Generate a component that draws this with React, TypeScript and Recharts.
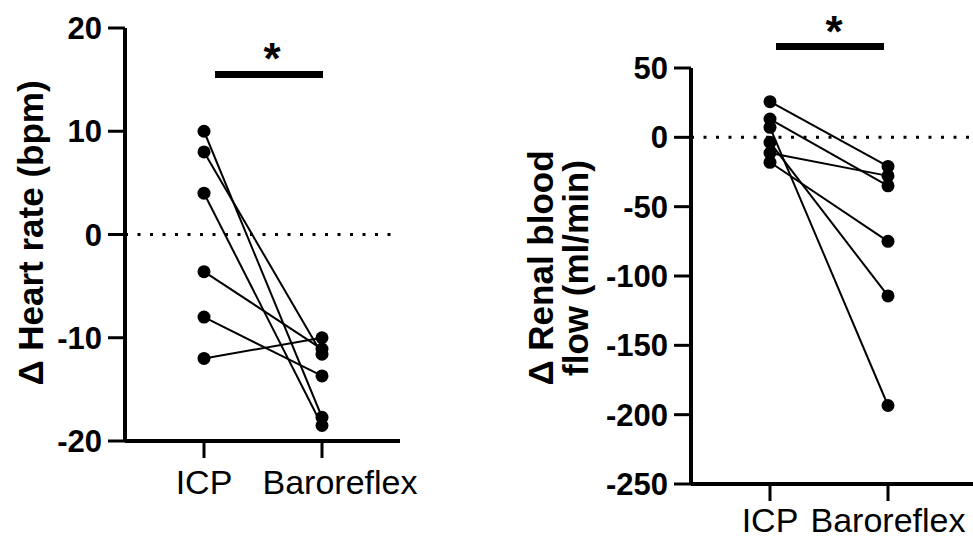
import React from 'react';
import { LineChart, Line, XAxis, YAxis, ReferenceLine } from 'recharts';

// paired values, one entry per animal (ICP -> Baroreflex)
const groups = ['ICP', 'Baroreflex'];
const hrIcp = [10, 8, 4, -3.6, -8, -12];
const hrBaro = [-17.7, -11.6, -18.5, -11.1, -13.7, -10];
const hrTicks = [-20, -10, 0, 10, 20];

const rbfIcp = [25.7, 13.2, 7.2, -3.6, -11.3, -18];
const rbfBaro = [-21, -35, -193.4, -114.4, -27.8, -75];
const rbfTicks = [-250, -200, -150, -100, -50, 0, 50];

const FONT = '"Liberation Sans", Arial, sans-serif';

// recharts wants rows: { group, s0, s1, ... }
function toRows(before: number[], after: number[]) {
  return groups.map((g, gi) => {
    const row: Record<string, any> = { group: g };
    const vals = gi === 0 ? before : after;
    vals.forEach((v, i) => (row['s' + i] = v));
    return row;
  });
}

const hrData = toRows(hrIcp, hrBaro);
const rbfData = toRows(rbfIcp, rbfBaro);

const tickStyle = { fontSize: 31, fontWeight: 700, fill: '#000', fontFamily: FONT };

// category label, optionally nudged (the left panel has "Baroreflex" shifted right)
function CatTick({ x, y, payload, shift, lift }: any) {
  const dx = payload.value === 'Baroreflex' ? shift : 0;
  return (
    <text x={x + dx} y={y} dy={26 - lift} textAnchor="middle" fontSize={34} fontFamily={FONT} fill="#000">
      {payload.value}
    </text>
  );
}

function PairedChart({ data, n, ticks, domain, width, height, margin, padding, yWidth, shift, lift }: any) {
  return (
    <LineChart width={width} height={height} data={data} margin={margin}>
      <XAxis
        dataKey="group"
        padding={padding}
        axisLine={{ stroke: '#000', strokeWidth: 4 }}
        tickLine={{ stroke: '#000', strokeWidth: 3 }}
        tickSize={17}
        tick={<CatTick shift={shift} lift={lift} />}
        tickMargin={10}
        height={60}
        interval={0}
      />
      <YAxis
        type="number"
        domain={domain}
        ticks={ticks}
        interval={0}
        width={yWidth}
        axisLine={{ stroke: '#000', strokeWidth: 4 }}
        tickLine={{ stroke: '#000', strokeWidth: 3 }}
        tickSize={17}
        tick={tickStyle}
        tickMargin={6}
      />
      <ReferenceLine y={0} stroke="#000" strokeWidth={3} strokeDasharray="3 9.5" />
      {Array.from({ length: n }, (_, i) => (
        <Line
          key={i}
          dataKey={'s' + i}
          stroke="#000"
          strokeWidth={2}
          dot={{ r: 6.5, fill: '#000', stroke: '#000', strokeWidth: 0 }}
          isAnimationActive={false}
        />
      ))}
    </LineChart>
  );
}

export default function App() {
  return (
    <div style={{ position: 'absolute', left: 0, top: 0, width: 973, height: 541, background: '#fff', overflow: 'hidden' }}>
      <div style={{ position: 'absolute', left: 0, top: 0 }}>
        <PairedChart
          data={hrData}
          n={hrIcp.length}
          ticks={hrTicks}
          domain={[-20, 20]}
          width={430}
          height={501}
          margin={{ top: 28, right: 30, left: 0, bottom: 0 }}
          padding={{ left: 79, right: 78 }}
          yWidth={125}
          shift={18}
          lift={0}
        />
      </div>
      <div style={{ position: 'absolute', left: 561, top: 0 }}>
        <PairedChart
          data={rbfData}
          n={rbfIcp.length}
          ticks={rbfTicks}
          domain={[-250, 50]}
          width={412}
          height={544}
          margin={{ top: 68, right: 0, left: 0, bottom: 0 }}
          padding={{ left: 79, right: 85 }}
          yWidth={130}
          shift={0}
          lift={5}
        />
      </div>
      <svg width={973} height={541} style={{ position: 'absolute', left: 0, top: 0, pointerEvents: 'none' }}>
        <g fontFamily={FONT} fontWeight={700} fontSize={35} fill="#000">
          <text transform="translate(43,233) rotate(-90)" textAnchor="middle">Δ Heart rate (bpm)</text>
          <text transform="translate(553,268) rotate(-90)" textAnchor="middle">Δ Renal blood</text>
          <text transform="translate(588,268) rotate(-90)" textAnchor="middle">flow (ml/min)</text>
        </g>
        <rect x={215} y={71} width={108} height={7} fill="#000" />
        <rect x={776} y={43} width={108} height={7} fill="#000" />
        <g fontFamily={FONT} fontWeight={700} fontSize={44} fill="#000" textAnchor="middle">
          <text x={272} y={74}>*</text>
          <text x={834} y={47}>*</text>
        </g>
      </svg>
    </div>
  );
}
